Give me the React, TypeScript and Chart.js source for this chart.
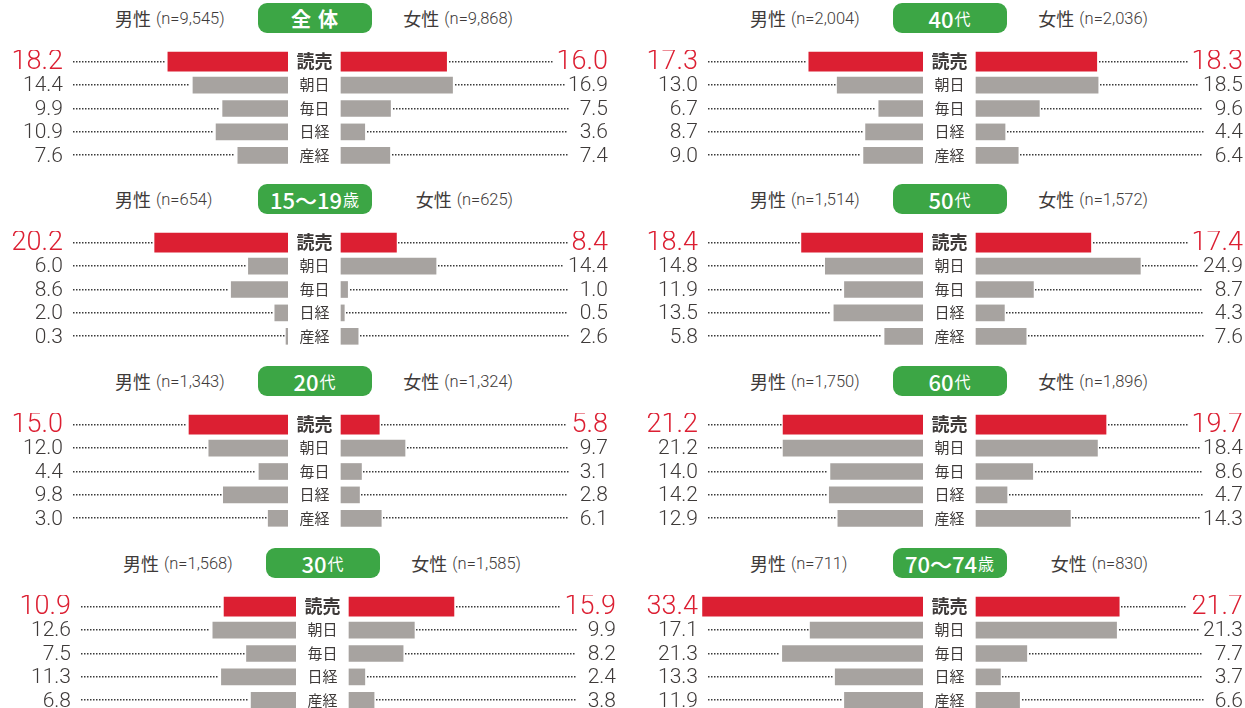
import React, { useEffect, useRef } from "react";
import { Chart, registerables } from "chart.js";

Chart.register(...registerables);

// ---------- data ----------
const papers = ["読売", "朝日", "毎日", "日経", "産経"];
const groupMain = ["全体", "15〜19", "20", "30", "40", "50", "60", "70〜74"];
const groupSuffix = ["", "歳", "代", "代", "代", "代", "代", "歳"];
const maleN = ["9,545", "654", "1,343", "1,568", "2,004", "1,514", "1,750", "711"];
const femaleN = ["9,868", "625", "1,324", "1,585", "2,036", "1,572", "1,896", "830"];

const maleAll = [18.2, 14.4, 9.9, 10.9, 7.6];
const femaleAll = [16.0, 16.9, 7.5, 3.6, 7.4];
const male15 = [20.2, 6.0, 8.6, 2.0, 0.3];
const female15 = [8.4, 14.4, 1.0, 0.5, 2.6];
const male20 = [15.0, 12.0, 4.4, 9.8, 3.0];
const female20 = [5.8, 9.7, 3.1, 2.8, 6.1];
const male30 = [10.9, 12.6, 7.5, 11.3, 6.8];
const female30 = [15.9, 9.9, 8.2, 2.4, 3.8];
const male40 = [17.3, 13.0, 6.7, 8.7, 9.0];
const female40 = [18.3, 18.5, 9.6, 4.4, 6.4];
const male50 = [18.4, 14.8, 11.9, 13.5, 5.8];
const female50 = [17.4, 24.9, 8.7, 4.3, 7.6];
const male60 = [21.2, 21.2, 14.0, 14.2, 12.9];
const female60 = [19.7, 18.4, 8.6, 4.7, 14.3];
const male70 = [33.4, 17.1, 21.3, 13.3, 11.9];
const female70 = [21.7, 21.3, 7.7, 3.7, 6.6];

const maleSeries = [maleAll, male15, male20, male30, male40, male50, male60, male70];
const femaleSeries = [femaleAll, female15, female20, female30, female40, female50, female60, female70];

// ---------- style / layout ----------
const RED = "#dc1f32";
const GRAY = "#a7a3a0";
const TEXT = "#3e3a39";
const GREEN = "#3ca645";
const FONT_NUM = "Roboto, 'Noto Sans', sans-serif";
const FONT_JP = "'Noto Sans CJK JP', 'Noto Sans', sans-serif";
const XMAX = 215 / 6.6;
const SIDE_W = 290;
const GAP = 53;
const CHART_TOP = 50;
const CHART_H = 117;

const panelPos = [
  { axis: 288, y: 0 },
  { axis: 288, y: 181 },
  { axis: 288, y: 363 },
  { axis: 296, y: 545 },
  { axis: 923, y: 0 },
  { axis: 923, y: 181 },
  { axis: 923, y: 363 },
  { axis: 923, y: 545 },
];

function drawDots(ctx: CanvasRenderingContext2D, x1: number, x2: number, y: number) {
  const a = Math.round(Math.min(x1, x2));
  const b = Math.max(x1, x2);
  ctx.fillStyle = "#3a3a3a";
  const yy = Math.round(y) - 1;
  for (let x = a; x <= b - 1; x += 3) {
    ctx.fillRect(x, yy, 1.5, 1.5);
  }
}

function makeLeader(side: "left" | "right", values: number[]) {
  return {
    id: "leader_" + side,
    afterDatasetsDraw(chart: any) {
      const { ctx, chartArea } = chart;
      const xs = chart.scales.x;
      const ys = chart.scales.y;
      ctx.save();
      values.forEach((v, i) => {
        const y = ys.getPixelForValue(i);
        const bx = xs.getPixelForValue(v);
        const top = i === 0;
        const label = v.toFixed(1);
        ctx.font = top ? `300 27px ${FONT_NUM}` : `300 21px ${FONT_NUM}`;
        ctx.textBaseline = "middle";
        ctx.textAlign = "right";
        const w = ctx.measureText(label).width;
        if (side === "left") {
          const lx = chartArea.left - 10;
          ctx.fillStyle = top ? RED : TEXT;
          ctx.fillText(label, lx, y + 1);
          const start = chartArea.left;
          if (bx - 2 > start) drawDots(ctx, start, bx - 2, y);
        } else {
          const rx = chartArea.right + 52;
          ctx.fillStyle = top ? RED : TEXT;
          ctx.fillText(label, rx, y + 1);
          const end = Math.min(chartArea.right + 12, rx - w - 4);
          if (end > bx + 2) drawDots(ctx, bx + 2, end, y);
          ctx.font = top ? `700 18px ${FONT_JP}` : `400 15px ${FONT_JP}`;
          ctx.fillStyle = TEXT;
          ctx.textAlign = "center";
          ctx.fillText(papers[i], chartArea.left - GAP / 2, y - 0.5);
        }
      });
      ctx.restore();
    },
  };
}

function SideChart({ values, side }: { values: number[]; side: "left" | "right" }) {
  const ref = useRef<HTMLCanvasElement | null>(null);
  useEffect(() => {
    if (!ref.current) return;
    const chart = new Chart(ref.current, {
      type: "bar",
      data: {
        labels: papers,
        datasets: [
          {
            data: values.map((v, i) => (i === 0 ? v : null)),
            backgroundColor: RED,
            barThickness: 19,
            grouped: false,
            clip: false,
          } as any,
          {
            data: values.map((v, i) => (i === 0 ? null : v)),
            backgroundColor: GRAY,
            barThickness: 16,
            grouped: false,
            clip: false,
          } as any,
        ],
      },
      options: {
        indexAxis: "y",
        responsive: false,
        animation: false,
        events: [],
        layout: {
          padding:
            side === "left"
              ? { left: SIDE_W - 215, right: 0, top: 0, bottom: 0 }
              : { left: GAP, right: SIDE_W - 215, top: 0, bottom: 0 },
        },
        scales: {
          x: { type: "linear", min: 0, max: XMAX, reverse: side === "left", display: false },
          y: { type: "category", display: false },
        },
        plugins: { legend: { display: false }, tooltip: { enabled: false } },
      },
      plugins: [makeLeader(side, values)],
    } as any);
    return () => chart.destroy();
  }, [values, side]);
  const w = side === "left" ? SIDE_W : SIDE_W + GAP;
  return <canvas ref={ref} width={w} height={CHART_H} style={{ display: "block", width: w, height: CHART_H }} />;
}

function Panel({ idx }: { idx: number }) {
  const { axis, y } = panelPos[idx];
  const textStyle: React.CSSProperties = {
    position: "absolute",
    top: y + 3,
    height: 30,
    display: "flex",
    alignItems: "center",
    whiteSpace: "nowrap",
    color: TEXT,
    fontFamily: FONT_JP,
  };
  const nStyle: React.CSSProperties = { fontSize: 16.5, marginLeft: 5, fontFamily: FONT_NUM, fontWeight: 300 };
  const isAll = idx === 0;
  return (
    <>
      <div style={{ ...textStyle, left: axis - 173 }}>
        <span style={{ fontSize: 18 }}>男性</span>
        <span style={nStyle}>(n={maleN[idx]})</span>
      </div>
      <div
        style={{
          position: "absolute",
          left: axis + GAP / 2 - 57,
          top: y + 3,
          width: 114,
          height: 30,
          borderRadius: 9,
          background: GREEN,
          color: "#fff",
          display: "flex",
          alignItems: "center",
          justifyContent: "center",
          fontFamily: FONT_JP,
          whiteSpace: "nowrap",
        }}
      >
        <span
          style={{
            fontSize: isAll ? 20 : 22,
            fontWeight: isAll ? 700 : 500,
            letterSpacing: isAll ? 7 : 0,
            paddingLeft: isAll ? 7 : 0,
          }}
        >
          {groupMain[idx]}
        </span>
        {groupSuffix[idx] && <span style={{ fontSize: 16, marginLeft: 1 }}>{groupSuffix[idx]}</span>}
      </div>
      <div style={{ ...textStyle, left: axis + GAP + 172, transform: "translateX(-100%)" }}>
        <span style={{ fontSize: 18 }}>女性</span>
        <span style={nStyle}>(n={femaleN[idx]})</span>
      </div>
      <div style={{ position: "absolute", left: axis - SIDE_W, top: y + CHART_TOP }}>
        <SideChart values={maleSeries[idx]} side="left" />
      </div>
      <div style={{ position: "absolute", left: axis, top: y + CHART_TOP }}>
        <SideChart values={femaleSeries[idx]} side="right" />
      </div>
    </>
  );
}

export default function App() {
  return (
    <div
      style={{
        position: "absolute",
        left: 0,
        top: 0,
        width: 1245,
        height: 708,
        background: "#fff",
        overflow: "hidden",
      }}
    >
      {panelPos.map((_, i) => (
        <Panel key={i} idx={i} />
      ))}
    </div>
  );
}
